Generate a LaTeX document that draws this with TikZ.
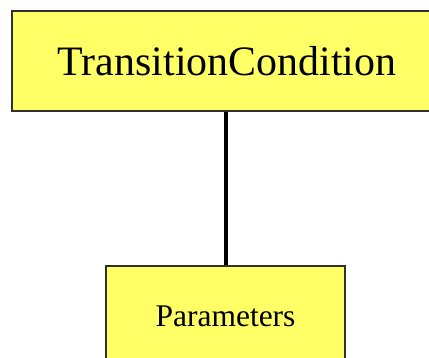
\documentclass[tikz,border=0pt]{standalone}
\usepackage{fontspec}
\setmainfont{Liberation Serif}
\newfontfamily\labelfont{Liberation Serif}
\definecolor{boxfill}{HTML}{FFFF66}
\definecolor{boxline}{HTML}{303030}
\begin{document}
\begin{tikzpicture}[x=1pt,y=-1pt,
  classbox/.style={draw=boxline, line width=1.6pt, fill=boxfill, rectangle,
    inner sep=0pt, align=center},
  link/.style={draw=black, line width=3.5pt}]
  \useasboundingbox (0,0) rectangle (429,358);
  \node[classbox, minimum width=430pt, minimum height=100pt,
    font=\labelfont\fontsize{41.9}{48}\selectfont] (cond) at (227,61) {TransitionCondition};
  \node[classbox, minimum width=239pt, minimum height=100pt,
    font=\labelfont\fontsize{31.5}{36}\selectfont] (params) at (225.5,316) {Parameters};
  \draw[link] (cond.south -| 226,0) -- (params.north -| 226,0);
\end{tikzpicture}
\end{document}
